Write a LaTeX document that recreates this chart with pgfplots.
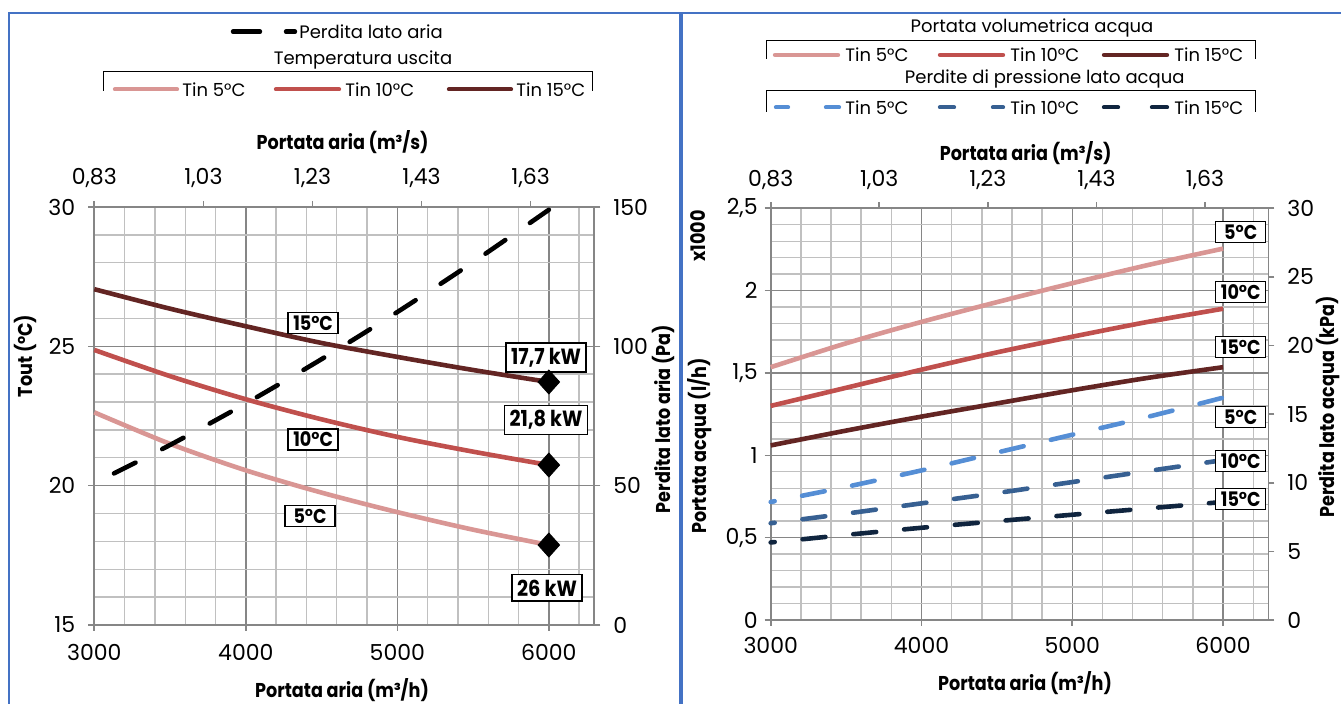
\documentclass[border=0pt]{standalone}
\usepackage{fontspec}
\setmainfont{Poppins}[BoldFeatures={FakeStretch=0.88}]
\usepackage{pgfplots}
\pgfplotsset{compat=1.18}
\usetikzlibrary{plotmarks}
\definecolor{c5}{HTML}{D99694}
\definecolor{c10}{HTML}{C0504D}
\definecolor{c15}{HTML}{632523}
\definecolor{b5}{HTML}{558ED5}
\definecolor{b10}{HTML}{376092}
\definecolor{b15}{HTML}{10253F}
\definecolor{gminor}{HTML}{C0C0C0}
\definecolor{gmajor}{HTML}{868686}
\definecolor{axisc}{HTML}{868686}
\definecolor{framec}{HTML}{4472C4}
\pgfplotsset{
  base/.style={scale only axis, anchor=south west,
    axis line style={axisc, line width=0.8pt},
    tick style={axisc, line width=0.8pt},
    tick align=outside, major tick length=3pt, minor tick length=0pt,
    ticklabel style={font=\fontsize{11}{13}\selectfont},
    /pgf/number format/assume math mode=true,
    /pgf/number format/use comma,
    /pgf/number format/1000 sep={},
    xmin=3000, xmax=6300, clip=false},
  gridded/.style={grid=both,
    major grid style={gmajor, line width=0.7pt},
    minor grid style={gminor, line width=0.7pt},
    minor xtick={3200,3400,3600,3800,4200,4400,4600,4800,5200,5400,5600,5800,6200}},
  curve/.style={line width=2.3pt, smooth, no marks},
  dcurve/.style={line width=2.3pt, smooth, no marks, line cap=round, dash pattern=on 12pt off 15pt},
  bcurve/.style={line width=2.3pt, smooth, no marks, line cap=round, dash pattern=on 11.5pt off 14pt, dash phase=9.5pt},
}
\tikzset{lbl/.style={draw=black, line width=0.7pt, fill=white, inner sep=1.5pt,
    font=\bfseries\fontsize{10}{11}\selectfont, minimum width=25pt, minimum height=10pt},
  kw/.style={draw=black, line width=0.7pt, fill=white, inner sep=2.5pt,
    font=\bfseries\fontsize{11}{12}\selectfont, minimum height=13pt},
  ttl/.style={font=\bfseries\fontsize{10}{12}\selectfont, inner sep=0pt},
  leg/.style={font=\fontsize{9}{11}\selectfont, anchor=west, inner sep=0pt}}
\begin{document}
\begin{tikzpicture}[x=0.5pt,y=0.5pt]
\path[use as bounding box] (0,0) rectangle (1341,704);
% panel frames
\draw[framec, line width=1pt] (9,-20) -- (9,691) -- (679.5,691) -- (679.5,-20);
\draw[framec, line width=1pt] (682,-20) -- (682,691) -- (1360,691);

% ===== LEFT PANEL =====
\begin{axis}[base, gridded, at={(47.15pt,39.5pt)}, width=250pt, height=209pt,
  ymin=15, ymax=30, axis x line*=bottom, axis y line*=left,
  xtick={3000,4000,5000,6000}, ytick={15,20,25,30},
  minor ytick={16,17,18,19,21,22,23,24,26,27,28,29},
  xticklabel style={yshift=-3pt}, yticklabel style={xshift=-3pt}]
\addplot[curve, c15] coordinates {(3000,27.05)(3500,26.35)(4000,25.72)(4500,25.12)(5000,24.62)(5500,24.15)(6000,23.72)};
\addplot[curve, c10] coordinates {(3000,24.87)(3500,23.93)(4000,23.10)(4500,22.38)(5000,21.75)(5500,21.22)(6000,20.74)};
\addplot[curve, c5] coordinates {(3000,22.63)(3500,21.50)(4000,20.55)(4500,19.75)(5000,19.05)(5500,18.42)(6000,17.87)};
\addplot[only marks, mark=diamond*, mark size=6pt, black, mark options={xscale=1.2}] coordinates {(6000,23.72)(6000,20.74)(6000,17.87)};
\node[lbl] at (axis cs:4444,25.84) {15°C};
\node[lbl] at (axis cs:4444,21.66) {10°C};
\node[lbl] at (axis cs:4424,18.91) {5°C};
\node[kw] at (axis cs:5982,24.60) {17,7 kW};
\node[kw] at (axis cs:5982,22.36) {21,8 kW};
\node[kw] at (axis cs:5988,16.33) {26 kW};
\end{axis}
\begin{axis}[base, at={(47.15pt,39.5pt)}, width=250pt, height=209pt,
  ymin=0, ymax=150, axis x line*=top, axis y line*=right,
  xtick={3000,3720,4440,5160,5880}, xticklabels={{0,83},{1,03},{1,23},{1,43},{1,63}},
  ytick={0,50,100,150}, xticklabel style={yshift=3pt}, yticklabel style={xshift=3pt}]
\addplot[dcurve, black] coordinates {(3130,54.4)(3500,64.6)(4000,79.5)(4500,95.4)(5000,112.3)(5500,130.2)(6000,149)};
\end{axis}
% left legend
\draw[black, line width=2.2pt, line cap=round] (233,672.3) -- (260,672.3);
\draw[black, line width=2.2pt, line cap=round] (286,672.3) -- (295,672.3);
\node[leg] at (299,672.3) {Perdita lato aria};
\node[font=\fontsize{9}{11}\selectfont] at (363,644) {Temperatura uscita};
\draw[black, line width=0.5pt] (103,613.3) -- (103,632.3) -- (592,632.3) -- (592,613.3);
\draw[c5, line width=2.2pt, line cap=round] (115,614.7) -- (177,614.7);
\node[leg] at (182,614.7) {Tin 5°C};
\draw[c10, line width=2.2pt, line cap=round] (276,614.7) -- (339,614.7);
\node[leg] at (345,614.7) {Tin 10°C};
\draw[c15, line width=2.2pt, line cap=round] (449,614.7) -- (511,614.7);
\node[leg] at (516,614.7) {Tin 15°C};
% left titles
\node[ttl] at (342.6,562.3) {Portata aria (m³/s)};
\node[ttl] at (342,14) {Portata aria (m³/h)};
\node[ttl, rotate=90] at (25,348) {Tout (°C)};
\node[ttl, rotate=90] at (663,285) {Perdita lato aria (Pa)};

% ===== RIGHT PANEL =====
\begin{axis}[base, gridded, at={(385.35pt,42pt)}, width=248.8pt, height=205.85pt,
  ymin=0, ymax=2.5, axis x line*=bottom, axis y line*=left,
  xtick={3000,4000,5000,6000}, ytick={0,0.5,1,1.5,2,2.5},
  minor ytick={0.1,0.2,0.3,0.4,0.6,0.7,0.8,0.9,1.1,1.2,1.3,1.4,1.6,1.7,1.8,1.9,2.1,2.2,2.3,2.4},
  xticklabel style={yshift=-2pt}, yticklabel style={xshift=0pt}]
\addplot[curve, c5] coordinates {(3000,1.535)(3500,1.68)(4000,1.81)(4500,1.93)(5000,2.045)(5500,2.155)(6000,2.255)};
\addplot[curve, c10] coordinates {(3000,1.30)(3500,1.41)(4000,1.52)(4500,1.625)(5000,1.72)(5500,1.81)(6000,1.89)};
\addplot[curve, c15] coordinates {(3000,1.06)(3500,1.15)(4000,1.235)(4500,1.315)(5000,1.395)(5500,1.47)(6000,1.535)};
\end{axis}
\begin{axis}[base, at={(385.35pt,42pt)}, width=248.8pt, height=205.85pt,
  ymin=0, ymax=30, axis x line*=top, axis y line*=right,
  xtick={3000,3720,4440,5160,5880}, xticklabels={{0,83},{1,03},{1,23},{1,43},{1,63}},
  ytick={0,5,10,15,20,25,30}, xticklabel style={yshift=3pt}, yticklabel style={xshift=3pt}]
\addplot[bcurve, b5] coordinates {(3000,8.6)(3500,9.7)(4000,10.9)(4500,12.2)(5000,13.5)(5500,14.8)(6000,16.2)};
\addplot[bcurve, b10] coordinates {(3000,7.05)(3500,7.75)(4000,8.5)(4500,9.25)(5000,10.05)(5500,10.85)(6000,11.65)};
\addplot[bcurve, b15] coordinates {(3000,5.65)(3500,6.2)(4000,6.72)(4500,7.2)(5000,7.67)(5500,8.13)(6000,8.6)};
\node[lbl] at (axis cs:6117,28.27) {5°C};
\node[lbl] at (axis cs:6117,23.92) {10°C};
\node[lbl] at (axis cs:6117,19.90) {15°C};
\node[lbl] at (axis cs:6117,14.80) {5°C};
\node[lbl] at (axis cs:6117,11.58) {10°C};
\node[lbl] at (axis cs:6117,8.82) {15°C};
\end{axis}
% right legend
\node[font=\fontsize{9}{11}\selectfont] at (1032,675.7) {Portata volumetrica acqua};
\draw[black, line width=0.5pt] (766,645) -- (766,663.3) -- (1255.5,663.3) -- (1255.5,645);
\draw[c5, line width=2.2pt, line cap=round] (775,649) -- (838,649);
\node[leg] at (845,649) {Tin 5°C};
\draw[c10, line width=2.2pt, line cap=round] (940,649) -- (1003,649);
\node[leg] at (1010,649) {Tin 10°C};
\draw[c15, line width=2.2pt, line cap=round] (1104,649) -- (1167,649);
\node[leg] at (1174,649) {Tin 15°C};
\node[font=\fontsize{9}{11}\selectfont] at (1044.7,624.7) {Perdite di pressione lato acqua};
\draw[black, line width=0.5pt] (766,592.3) -- (766,613.3) -- (1255.5,613.3) -- (1255.5,592.3);
\draw[b5, line width=2.2pt, line cap=round] (776,596.7) -- (788,596.7);
\draw[b5, line width=2.2pt, line cap=round] (826,596.7) -- (839,596.7);
\node[leg] at (845,596.7) {Tin 5°C};
\draw[b10, line width=2.2pt, line cap=round] (940,596.7) -- (954,596.7);
\draw[b10, line width=2.2pt, line cap=round] (993,596.7) -- (1003,596.7);
\node[leg] at (1010,596.7) {Tin 10°C};
\draw[b15, line width=2.2pt, line cap=round] (1104,596.7) -- (1118,596.7);
\draw[b15, line width=2.2pt, line cap=round] (1152,596.7) -- (1167,596.7);
\node[leg] at (1174,596.7) {Tin 15°C};
% right titles
\node[ttl] at (1025.7,551.3) {Portata aria (m³/s)};
\node[ttl] at (1025,21) {Portata aria (m³/h)};
\node[ttl, rotate=90] at (698,468) {x1000};
\node[ttl, rotate=90] at (700,258) {Portata acqua (l/h)};
\node[ttl, rotate=90] at (1328,297) {Perdita lato acqua (kPa)};
\end{tikzpicture}
\end{document}
